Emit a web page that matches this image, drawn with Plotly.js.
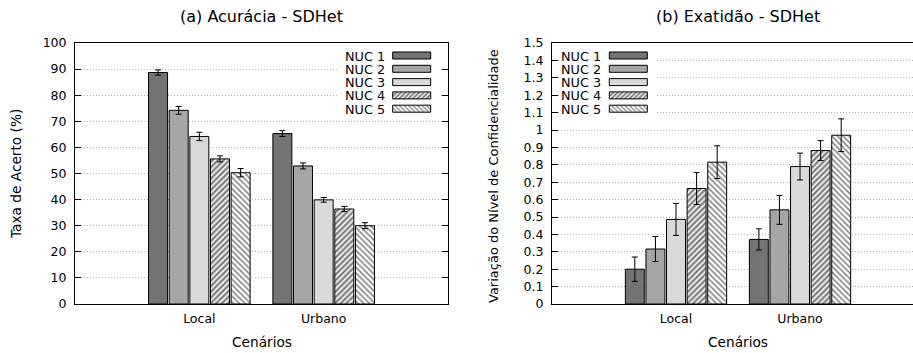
<!DOCTYPE html>
<html>
<head>
<meta charset="utf-8">
<script src="https://cdn.plot.ly/plotly-3.0.1.min.js"></script>
<style>html,body{margin:0;padding:0;background:#fff;}</style>
</head>
<body>
<div id="chart" style="width:913px;height:353px;"></div>
<script>
// ---- data ----
const categories = ['Local', 'Urbano'];
const seriesNames = ['NUC 1', 'NUC 2', 'NUC 3', 'NUC 4', 'NUC 5'];

// (a) Acurácia - Taxa de Acerto (%)
const accNuc1 = [88.7, 65.3];
const accNuc2 = [74.2, 52.9];
const accNuc3 = [64.2, 39.9];
const accNuc4 = [55.6, 36.4];
const accNuc5 = [50.3, 30.0];
const accErr1 = [1.0, 1.1];
const accErr2 = [1.5, 1.15];
const accErr3 = [1.6, 0.9];
const accErr4 = [1.15, 1.0];
const accErr5 = [1.6, 1.15];

// (b) Exatidão - Variação do Nível de Confidencialidade
const exaNuc1 = [0.200, 0.371];
const exaNuc2 = [0.316, 0.541];
const exaNuc3 = [0.486, 0.790];
const exaNuc4 = [0.664, 0.882];
const exaNuc5 = [0.815, 0.970];
const exaErr1 = [0.070, 0.061];
const exaErr2 = [0.072, 0.083];
const exaErr3 = [0.092, 0.077];
const exaErr4 = [0.092, 0.057];
const exaErr5 = [0.094, 0.094];

const accVals = [accNuc1, accNuc2, accNuc3, accNuc4, accNuc5];
const accErrs = [accErr1, accErr2, accErr3, accErr4, accErr5];
const exaVals = [exaNuc1, exaNuc2, exaNuc3, exaNuc4, exaNuc5];
const exaErrs = [exaErr1, exaErr2, exaErr3, exaErr4, exaErr5];

// ---- styles ----
const FONT = 'DejaVu Sans, Liberation Sans, sans-serif';
const markers = [
  {color: '#737373'},
  {color: '#a6a6a6'},
  {color: '#d9d9d9'},
  {color: '#ffffff', pattern: {shape: '/', size: 4, solidity: 0.6, fgcolor: '#000', bgcolor: '#fff', fillmode: 'overlay'}},
  {color: '#ffffff', pattern: {shape: '\\', size: 4, solidity: 0.42, fgcolor: '#111', bgcolor: '#fff', fillmode: 'overlay'}}
];

function makeTraces(vals, errs, xa, ya, legendId) {
  return vals.map((v, i) => ({
    type: 'bar',
    name: seriesNames[i],
    x: categories,
    y: v,
    xaxis: xa,
    yaxis: ya,
    legend: legendId,
    marker: Object.assign({line: {color: '#000', width: 1}}, markers[i]),
    error_y: {type: 'data', array: errs[i], visible: true, color: '#000', thickness: 1, width: 3}
  }));
}

const data = makeTraces(accVals, accErrs, 'x', 'y', 'legend')
  .concat(makeTraces(exaVals, exaErrs, 'x2', 'y2', 'legend2'));

const W = 913, H = 353, TOP = 43, BOT = 304;
const px = v => v / W;                       // paper x from pixel (margins l=r=0)
const py = v => (BOT - v) / (BOT - TOP);     // paper y from pixel

const axisCommon = {
  showline: true, linecolor: '#000', linewidth: 1,
  tickfont: {family: FONT, size: 12.5, color: '#000'},
  zeroline: false
};
const gridStyle = {showgrid: true, gridcolor: '#b4b4b4', griddash: '1px,2px', gridwidth: 1};

const layout = {
  width: W, height: H,
  margin: {l: 0, r: 0, t: TOP, b: H - BOT, pad: 0},
  paper_bgcolor: '#fff', plot_bgcolor: '#fff',
  barmode: 'group', bargap: 0.17, bargroupgap: 0.08,
  font: {family: FONT, size: 12.5, color: '#000'},
  xaxis: Object.assign({}, axisCommon, {
    domain: [px(75), px(448)], type: 'category', range: [-1, 2],
    mirror: true, ticks: '', showgrid: false, ticklabelstandoff: 3
  }),
  yaxis: Object.assign({}, axisCommon, gridStyle, {
    range: [0, 100], dtick: 10, tick0: 0,
    mirror: 'ticks', ticks: 'inside', ticklen: 6, tickcolor: '#000',
    ticklabelstandoff: 5
  }),
  xaxis2: Object.assign({}, axisCommon, {
    domain: [px(552), 1], type: 'category', range: [-1, 1.911],
    anchor: 'y2', mirror: true, ticks: '', showgrid: false, ticklabelstandoff: 3
  }),
  yaxis2: Object.assign({}, axisCommon, gridStyle, {
    anchor: 'x2', range: [0, 1.5], dtick: 0.1, tick0: 0,
    mirror: false, ticks: 'inside', ticklen: 6, tickcolor: '#000',
    ticklabelstandoff: 5
  }),
  showlegend: true,
  legend: {x: px(345), y: 1, xanchor: 'left', yanchor: 'top', bgcolor: '#fff', borderwidth: 0,
           traceorder: 'normal', font: {family: FONT, size: 12.8, color: '#000'}},
  legend2: {x: px(561), y: 1, xanchor: 'left', yanchor: 'top', bgcolor: '#fff', borderwidth: 0,
            traceorder: 'normal', font: {family: FONT, size: 12.8, color: '#000'}},
  annotations: [
    {text: '(a) Acurácia - SDHet', xref: 'paper', yref: 'paper', x: px(261.5), y: py(16),
     xanchor: 'center', yanchor: 'middle', showarrow: false, font: {family: FONT, size: 16, color: '#000'}},
    {text: '(b) Exatidão - SDHet', xref: 'paper', yref: 'paper', x: px(738), y: py(16),
     xanchor: 'center', yanchor: 'middle', showarrow: false, font: {family: FONT, size: 16, color: '#000'}},
    {text: 'Cenários', xref: 'paper', yref: 'paper', x: px(261.5), y: py(342),
     xanchor: 'center', yanchor: 'middle', showarrow: false, font: {family: FONT, size: 13.7, color: '#000'}},
    {text: 'Cenários', xref: 'paper', yref: 'paper', x: px(738), y: py(342),
     xanchor: 'center', yanchor: 'middle', showarrow: false, font: {family: FONT, size: 13.7, color: '#000'}},
    {text: 'Taxa de Acerto (%)', xref: 'paper', yref: 'paper', x: px(16), y: py(174), textangle: -90,
     xanchor: 'center', yanchor: 'middle', showarrow: false, font: {family: FONT, size: 13.7, color: '#000'}},
    {text: 'Variação do Nível de Confidencialidade', xref: 'paper', yref: 'paper', x: px(493), y: py(176), textangle: -90,
     xanchor: 'center', yanchor: 'middle', showarrow: false, font: {family: FONT, size: 13, color: '#000'}}
  ]
};

// gnuplot-style key: text first, then a wide flat sample box
const keyLayout = {
  legend:  {textX: 345, boxCx: 411.7, y0: 55.5, dy: 13.3, bg: [338, 44, 102, 72]},
  legend2: {textX: 561, boxCx: 628.3, y0: 55.5, dy: 13.3, bg: [559, 44, 96, 72]}
};

function restyleKeys() {
  const gd = document.getElementById('chart');
  Object.keys(keyLayout).forEach(id => {
    const cfg = keyLayout[id];
    const lg = gd.querySelector('g.' + id);
    if (!lg) return;
    lg.setAttribute('transform', 'translate(0,0)');
    const bg = lg.querySelector('rect.bg');
    if (bg) {
      bg.setAttribute('x', cfg.bg[0]); bg.setAttribute('y', cfg.bg[1]);
      bg.setAttribute('width', cfg.bg[2]); bg.setAttribute('height', cfg.bg[3]);
    }
    const sb = lg.querySelector('g.scrollbox');
    if (sb) { sb.removeAttribute('clip-path'); sb.setAttribute('transform', 'translate(0,0)'); }
    const items = lg.querySelectorAll('g.traces');
    items.forEach((g, i) => {
      g.setAttribute('transform', 'translate(0,' + (cfg.y0 + i * cfg.dy) + ')');
      g.querySelectorAll('text').forEach(t => {
        t.setAttribute('x', cfg.textX);
        t.setAttribute('text-anchor', 'start');
        t.style.textAnchor = 'start';
        t.querySelectorAll('tspan').forEach(ts => { if (ts.hasAttribute('x')) ts.setAttribute('x', cfg.textX); });
      });
      g.querySelectorAll('g.legendpoints path').forEach(p => {
        p.setAttribute('d', 'M19,3.5H-19V-3.5H19Z');
        p.setAttribute('transform', 'translate(' + cfg.boxCx + ',0)');
      });
      g.querySelectorAll('rect').forEach(r => {
        if (/toggle/.test(r.getAttribute('class') || '')) r.setAttribute('width', 0);
      });
    });
  });
}

Plotly.newPlot('chart', data, layout, {displayModeBar: false, staticPlot: true, responsive: false})
  .then(gd => {
    restyleKeys();
    gd.on && gd.on('plotly_afterplot', restyleKeys);
    requestAnimationFrame(restyleKeys);
    [0, 30, 100, 300, 800].forEach(t => setTimeout(restyleKeys, t));
  });
</script>
</body>
</html>
